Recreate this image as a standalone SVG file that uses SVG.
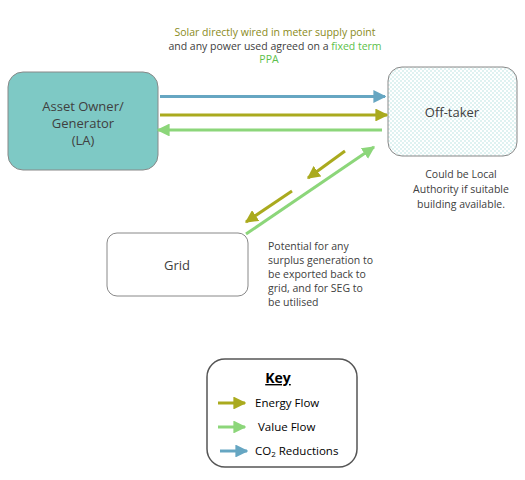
<svg xmlns="http://www.w3.org/2000/svg" width="525" height="480" viewBox="0 0 525 480">
<style>
text{font-family:"Open Sans","Noto Sans","Liberation Sans",sans-serif;fill:#404040}
.n{font-size:13px}
.s{font-size:10.5px}
.k{font-size:11.5px;fill:#000}
.e{stroke:#aaaa1e;stroke-width:3;fill:none}
.v{stroke:#8cd67a;stroke-width:3;fill:none}
.c{stroke:#66a6c2;stroke-width:3;fill:none}
</style>
<defs>
<marker id="ae" viewBox="0 0 10 10" refX="9" refY="5" markerWidth="4.3" markerHeight="4.3" orient="auto" markerUnits="strokeWidth"><path d="M0,0L10,5L0,10z" fill="#aaaa1e"/></marker>
<marker id="av" viewBox="0 0 10 10" refX="9" refY="5" markerWidth="4.3" markerHeight="4.3" orient="auto" markerUnits="strokeWidth"><path d="M0,0L10,5L0,10z" fill="#8cd67a"/></marker>
<marker id="ac" viewBox="0 0 10 10" refX="9" refY="5" markerWidth="4.3" markerHeight="4.3" orient="auto" markerUnits="strokeWidth"><path d="M0,0L10,5L0,10z" fill="#66a6c2"/></marker>
<pattern id="dots" width="4" height="4" patternUnits="userSpaceOnUse"><rect width="4" height="4" fill="#fff"/><circle cx="1" cy="1" r="0.7" fill="#a8dcda"/><circle cx="3" cy="3" r="0.7" fill="#a8dcda"/></pattern>
</defs>
<g id="title">
<text class="s" x="275" y="36" text-anchor="middle" style="fill:#8a8a1a">Solar directly wired in meter supply point</text>
<text class="s" x="275" y="50" text-anchor="middle">and any power used agreed on a <tspan style="fill:#5cbf4a">fixed term</tspan></text>
<text class="s" x="269" y="63" text-anchor="middle" style="fill:#5cbf4a">PPA</text>
</g>
<g id="asset-owner">
<rect x="8" y="72" width="150" height="98" rx="15" fill="#7ec9c5" stroke="#888" stroke-width="1"/>
<text class="n" x="83" y="111" text-anchor="middle">Asset Owner/</text>
<text class="n" x="83" y="128" text-anchor="middle">Generator</text>
<text class="n" x="83" y="145" text-anchor="middle">(LA)</text>
</g>
<g id="off-taker">
<rect x="388" y="67" width="129" height="89" rx="14" fill="url(#dots)" stroke="#888" stroke-width="1"/>
<text class="n" x="452" y="117" text-anchor="middle">Off-taker</text>
</g>
<g id="grid">
<rect x="107" y="233" width="141" height="63" rx="10" fill="#fff" stroke="#888" stroke-width="1"/>
<text class="n" x="177" y="270" text-anchor="middle">Grid</text>
</g>
<g id="notes">
<text class="s" x="461" y="178" text-anchor="middle">Could be Local</text>
<text class="s" x="461" y="193" text-anchor="middle">Authority if suitable</text>
<text class="s" x="461" y="208" text-anchor="middle">building available.</text>
<text class="s" x="268" y="250">Potential for any</text>
<text class="s" x="268" y="264">surplus generation to</text>
<text class="s" x="268" y="278">be exported back to</text>
<text class="s" x="268" y="292">grid, and for SEG to</text>
<text class="s" x="268" y="306">be utilised</text>
</g>
<g id="connectors">
<line class="c" x1="160" y1="96.5" x2="385" y2="96.5" marker-end="url(#ac)"/>
<line class="e" x1="160" y1="115" x2="387" y2="115" marker-end="url(#ae)"/>
<line class="v" x1="382" y1="130" x2="158" y2="130" marker-end="url(#av)"/>
<line class="e" x1="345" y1="151" x2="308" y2="178" marker-end="url(#ae)"/>
<line class="e" x1="292" y1="191" x2="246" y2="222" marker-end="url(#ae)"/>
<line class="v" x1="246" y1="234" x2="374" y2="147" marker-end="url(#av)"/>
</g>
<g id="key">
<rect x="207" y="359" width="150" height="108" rx="18" fill="#fff" stroke="#555" stroke-width="1.5"/>
<text x="278" y="383" text-anchor="middle" style="font-size:14px;font-weight:bold;text-decoration:underline;fill:#000">Key</text>
<line class="e" x1="218" y1="403" x2="245" y2="403" marker-end="url(#ae)"/>
<text class="k" x="255" y="407">Energy Flow</text>
<line class="v" x1="218" y1="427" x2="245" y2="427" marker-end="url(#av)"/>
<text class="k" x="258" y="431">Value Flow</text>
<line class="c" x1="220" y1="451" x2="247" y2="451" marker-end="url(#ac)"/>
<text class="k" x="255" y="455">CO<tspan style="font-size:8px" dy="2">2</tspan><tspan dy="-2"> Reductions</tspan></text>
</g>
</svg>
